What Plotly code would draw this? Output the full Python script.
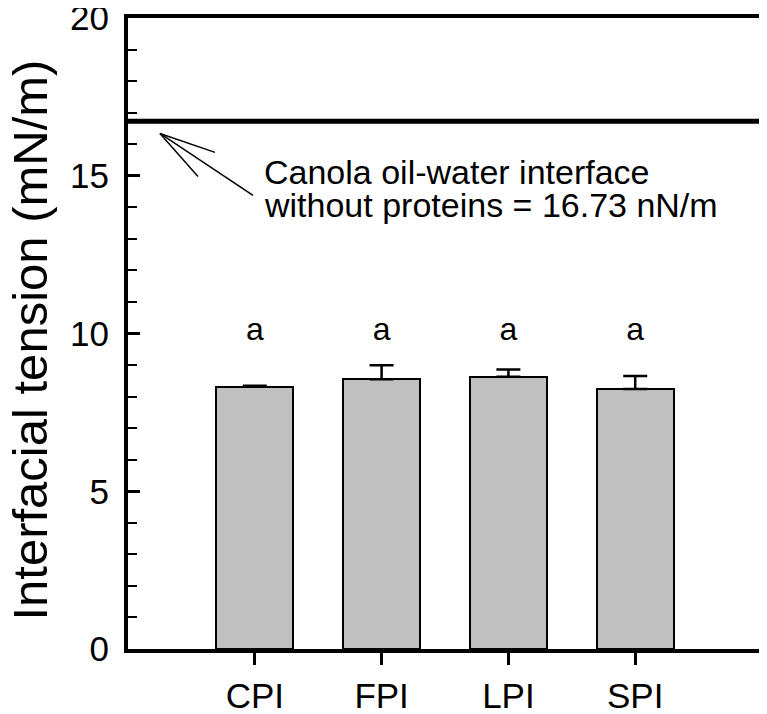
import plotly.graph_objects as go

categories = ["CPI", "FPI", "LPI", "SPI"]
tension = [8.31, 8.55, 8.63, 8.24]
tension_err = [0.03, 0.44, 0.23, 0.41]
letters = ["a", "a", "a", "a"]
letter_y = 10.05
no_protein = 16.73
y_ticks = [0, 5, 10, 15, 20]
note_lines = ["Canola oil-water interface", "without proteins = 16.73 nN/m"]
y_title = "Interfacial tension (mN/m)"

FONT = "Arial, Liberation Sans, sans-serif"
xpos = list(range(len(categories)))

fig = go.Figure()
fig.add_trace(go.Bar(
    x=xpos, y=tension, width=0.61,
    marker=dict(color="#c0c0c0", line=dict(color="black", width=2)),
    error_y=dict(type="data", symmetric=False, array=tension_err,
                 arrayminus=[0] * len(tension_err),
                 color="black", thickness=2.5, width=12),
    showlegend=False,
))
fig.add_trace(go.Scatter(
    x=xpos, y=[letter_y] * len(xpos), mode="text", text=letters,
    textfont=dict(family=FONT, size=32, color="black"), showlegend=False,
))

# reference line (no proteins)
fig.add_shape(type="line", xref="paper", x0=0, x1=1, y0=no_protein, y1=no_protein,
              line=dict(color="black", width=5))
# open arrow pointing at the line
tip = (-0.748, 16.34)
for end in [(-0.014, 14.38), (-0.314, 15.74), (-0.448, 14.98)]:
    fig.add_shape(type="line", x0=tip[0], y0=tip[1], x1=end[0], y1=end[1],
                  line=dict(color="black", width=1.5))
for line_text, ly in zip(note_lines, [15.11, 14.06]):
    fig.add_annotation(
        x=0.06, y=ly, xanchor="left", yanchor="middle", showarrow=False, align="left",
        text=line_text, font=dict(family=FONT, size=34, color="black"),
    )
# y-axis title
fig.add_annotation(
    xref="paper", yref="paper", x=-0.155, y=0.49, textangle=-90,
    xanchor="center", yanchor="middle", showarrow=False,
    text=y_title, font=dict(family=FONT, size=49, color="black"),
)

# page body has an 8px default margin; size the figure to fill the 767x714 window
fig.update_layout(
    width=759, height=706,
    margin=dict(l=120, r=5, t=10, b=65),
    plot_bgcolor="white", paper_bgcolor="white",
    font=dict(family=FONT, color="black"),
    bargap=0,
)
fig.update_xaxes(
    range=[-1, 4], tickvals=xpos, ticktext=categories,
    showgrid=False, zeroline=False, automargin=False,
    showline=True, linecolor="black", linewidth=4, mirror=True,
    ticks="outside", ticklen=12, tickwidth=3, tickcolor="black",
    tickfont=dict(family=FONT, size=35, color="black"),
    ticklabelstandoff=1, ticklabeloverflow="allow",
)
fig.update_yaxes(
    range=[0, 20.0001], tickvals=y_ticks,
    showgrid=False, zeroline=False, automargin=False,
    showline=True, linecolor="black", linewidth=4, mirror=True,
    ticks="inside", ticklen=12, tickwidth=3, tickcolor="black",
    minor=dict(ticks="inside", dtick=1, ticklen=9, tickwidth=2, tickcolor="black"),
    tickfont=dict(family=FONT, size=35, color="black"),
    ticklabelstandoff=8, ticklabeloverflow="allow",
)

fig.write_html("out.html")
